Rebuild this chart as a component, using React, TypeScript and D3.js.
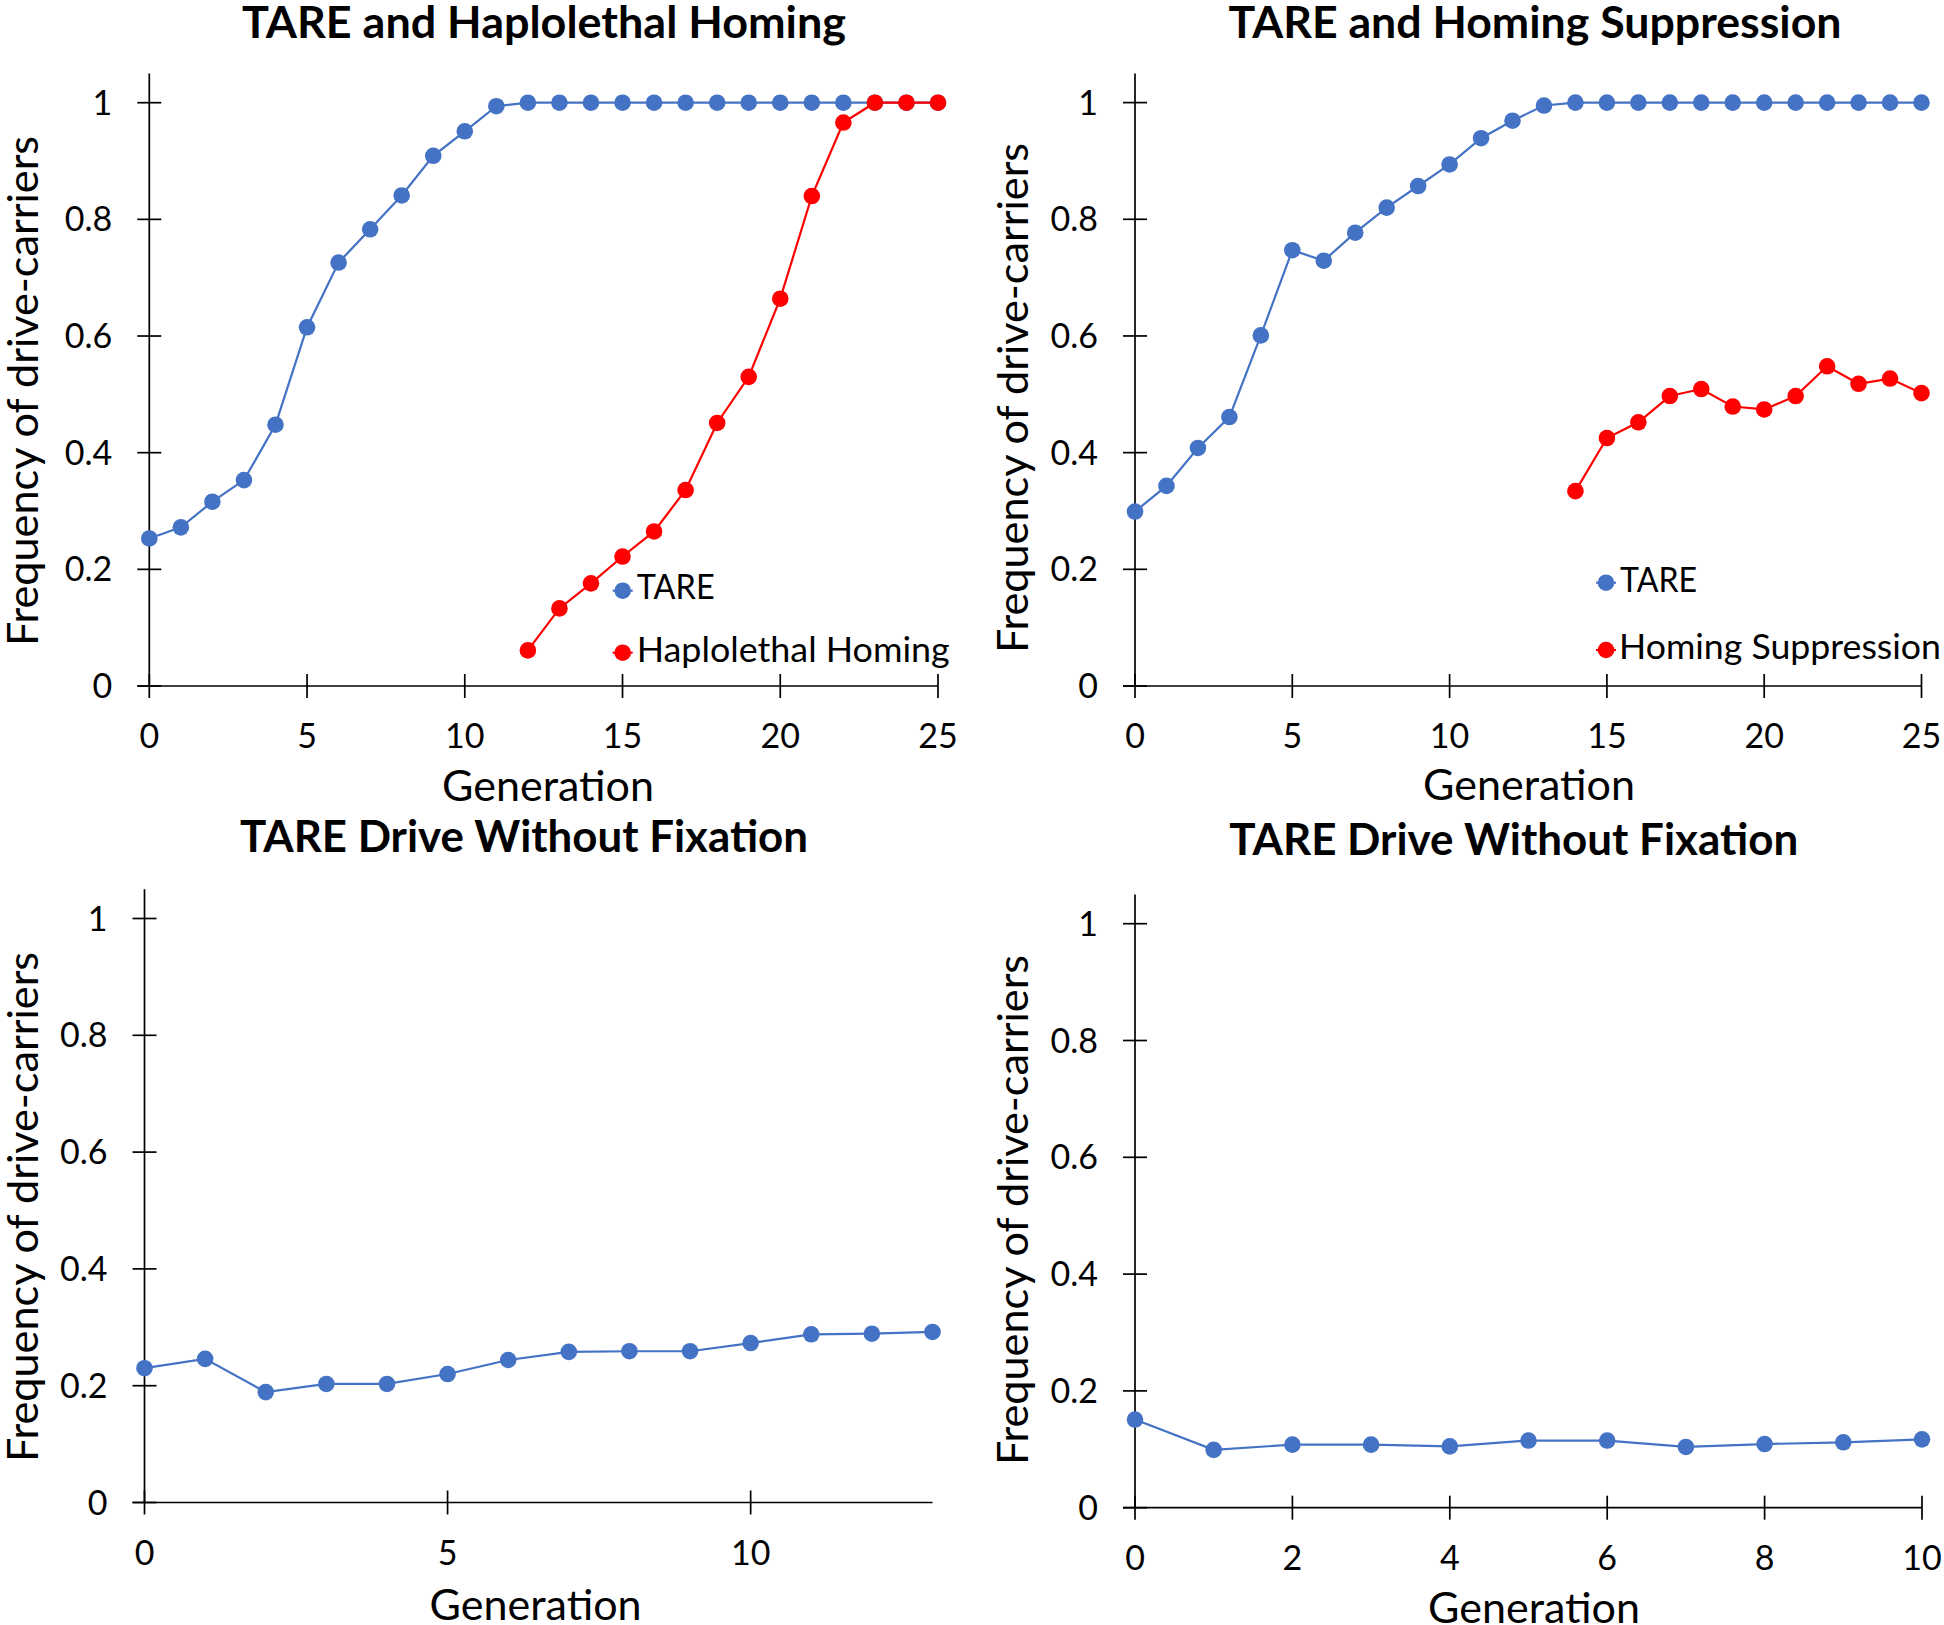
import React from "react";
import * as d3 from "d3";

// ---------------- DATA ----------------
const Y_TICKS = [0, 0.2, 0.4, 0.6, 0.8, 1];
const Y_TICK_LABELS = ["0", "0.2", "0.4", "0.6", "0.8", "1"];

const P1_X_TICKS = [0, 5, 10, 15, 20, 25];
const P1_GEN = [0, 1, 2, 3, 4, 5, 6, 7, 8, 9, 10, 11, 12, 13, 14, 15, 16, 17, 18, 19, 20, 21, 22, 23, 24, 25];
const P1_TARE = [0.253, 0.272, 0.316, 0.353, 0.448, 0.615, 0.726, 0.783, 0.841, 0.909, 0.951, 0.994, 1, 1, 1, 1, 1, 1, 1, 1, 1, 1, 1, 1, 1, 1];
const P1_HAPLO_GEN = [12, 13, 14, 15, 16, 17, 18, 19, 20, 21, 22, 23, 24, 25];
const P1_HAPLO = [0.061, 0.133, 0.176, 0.222, 0.265, 0.336, 0.451, 0.53, 0.664, 0.84, 0.966, 1, 1, 1];

const P2_X_TICKS = [0, 5, 10, 15, 20, 25];
const P2_GEN = [0, 1, 2, 3, 4, 5, 6, 7, 8, 9, 10, 11, 12, 13, 14, 15, 16, 17, 18, 19, 20, 21, 22, 23, 24, 25];
const P2_TARE = [0.299, 0.343, 0.408, 0.461, 0.601, 0.747, 0.729, 0.777, 0.82, 0.857, 0.894, 0.939, 0.969, 0.995, 1, 1, 1, 1, 1, 1, 1, 1, 1, 1, 1, 1];
const P2_SUPP_GEN = [14, 15, 16, 17, 18, 19, 20, 21, 22, 23, 24, 25];
const P2_SUPP = [0.334, 0.425, 0.452, 0.497, 0.509, 0.479, 0.474, 0.497, 0.548, 0.518, 0.527, 0.502];

const P3_X_TICKS = [0, 5, 10];
const P3_GEN = [0, 1, 2, 3, 4, 5, 6, 7, 8, 9, 10, 11, 12, 13];
const P3_TARE = [0.23, 0.246, 0.189, 0.203, 0.203, 0.22, 0.244, 0.258, 0.259, 0.259, 0.273, 0.288, 0.289, 0.292];

const P4_X_TICKS = [0, 2, 4, 6, 8, 10];
const P4_GEN = [0, 1, 2, 3, 4, 5, 6, 7, 8, 9, 10];
const P4_TARE = [0.151, 0.099, 0.108, 0.108, 0.105, 0.115, 0.115, 0.104, 0.109, 0.112, 0.117];

const TITLES = ["TARE and Haplolethal Homing", "TARE and Homing Suppression", "TARE Drive Without Fixation", "TARE Drive Without Fixation"];
const X_LABEL = "Generation";
const Y_LABEL = "Frequency of drive-carriers";

const BLUE = "#4472C4";
const RED = "#FF0000";
const FONT = "Lato, 'Open Sans', sans-serif";

type Series = { x: number[]; y: number[]; color: string };
type LegendItem = { label: string; color: string; cx: number; cy: number; tx: number; ty: number; tw: number };

type PanelProps = {
  title: string;
  titleX: number;
  titleY: number;
  titleW: number;
  xMax: number;
  xTicks: number[];
  left: number;
  right: number;
  bottom: number;
  top1: number;
  xLabelX: number;
  xLabelY: number;
  yLabelX: number;
  yLabelY: number;
  series: Series[];
  legend?: LegendItem[];
};

function Panel(p: PanelProps) {
  const x = d3.scaleLinear().domain([0, p.xMax]).range([p.left, p.right]);
  const y = d3.scaleLinear().domain([0, 1]).range([p.bottom, p.top1]);
  const line = d3
    .line<[number, number]>()
    .x((d) => x(d[0]))
    .y((d) => y(d[1]));
  const tick = 12;
  return (
    <g>
      <text
        x={p.titleX}
        y={p.titleY}
        textAnchor="middle"
        fontFamily={FONT}
        fontWeight="bold"
        fontSize={43}
        textLength={p.titleW}
        lengthAdjust="spacingAndGlyphs"
        fill="#000"
      >
        {p.title}
      </text>
      {/* axes */}
      <line x1={x(0)} x2={x(0)} y1={y(0)} y2={y(1.05)} stroke="#000" strokeWidth={1.7} />
      <line x1={x(0) - tick} x2={x(p.xMax)} y1={y(0)} y2={y(0)} stroke="#000" strokeWidth={1.7} />
      {Y_TICKS.map((t, i) => (
        <g key={"yt" + i}>
          <line x1={x(0) - tick} x2={x(0) + tick} y1={y(t)} y2={y(t)} stroke="#000" strokeWidth={1.7} />
          <text x={x(0) - 37} y={y(t) + 12} textAnchor="end" fontFamily={FONT} fontSize={34} fill="#000">
            {Y_TICK_LABELS[i]}
          </text>
        </g>
      ))}
      {p.xTicks.map((t) => (
        <g key={"xt" + t}>
          <line x1={x(t)} x2={x(t)} y1={y(0) - tick} y2={y(0) + tick} stroke="#000" strokeWidth={1.7} />
          <text x={x(t)} y={y(0) + 62} textAnchor="middle" fontFamily={FONT} fontSize={34} fill="#000">
            {String(t)}
          </text>
        </g>
      ))}
      <text
        x={p.xLabelX}
        y={p.xLabelY}
        textAnchor="middle"
        fontFamily={FONT}
        fontSize={43}
        textLength={212}
        lengthAdjust="spacingAndGlyphs"
        fill="#000"
      >
        {X_LABEL}
      </text>
      <text
        transform={`translate(${p.yLabelX},${p.yLabelY}) rotate(-90)`}
        textAnchor="middle"
        fontFamily={FONT}
        fontSize={42}
        textLength={510}
        lengthAdjust="spacingAndGlyphs"
        fill="#000"
      >
        {Y_LABEL}
      </text>
      {p.series.map((s, si) => {
        const pts: [number, number][] = s.x.map((v, i) => [v, s.y[i]]);
        return (
          <g key={"s" + si}>
            <path d={line(pts) || ""} fill="none" stroke={s.color} strokeWidth={2.2} />
            {pts.map((d, i) => (
              <circle key={i} cx={x(d[0])} cy={y(d[1])} r={8.3} fill={s.color} />
            ))}
          </g>
        );
      })}
      {(p.legend || []).map((l, i) => (
        <g key={"lg" + i}>
          <line x1={l.cx - 10} x2={l.cx + 10} y1={l.cy} y2={l.cy} stroke={l.color} strokeWidth={2.2} />
          <circle cx={l.cx} cy={l.cy} r={8.3} fill={l.color} />
          <text
            x={l.tx}
            y={l.ty}
            fontFamily={FONT}
            fontSize={34}
            textLength={l.tw}
            lengthAdjust="spacingAndGlyphs"
            fill="#000"
          >
            {l.label}
          </text>
        </g>
      ))}
    </g>
  );
}

export default function App() {
  return (
    <svg
      width={1944}
      height={1625}
      viewBox="0 0 1944 1625"
      style={{ position: "absolute", left: 0, top: 0, background: "#fff" }}
    >
      <rect x={0} y={0} width={1944} height={1625} fill="#fff" />
      <Panel
        title={TITLES[0]}
        titleX={544}
        titleY={38}
        titleW={604}
        xMax={25}
        xTicks={P1_X_TICKS}
        left={149.3}
        right={938}
        bottom={686}
        top1={102.7}
        xLabelX={548}
        xLabelY={801}
        yLabelX={38}
        yLabelY={391}
        series={[
          { x: P1_GEN, y: P1_TARE, color: BLUE },
          { x: P1_HAPLO_GEN, y: P1_HAPLO, color: RED },
        ]}
        legend={[
          { label: "TARE", color: BLUE, cx: 622.7, cy: 590.7, tx: 636.7, ty: 599.3, tw: 78 },
          { label: "Haplolethal Homing", color: RED, cx: 622.7, cy: 652.7, tx: 636.7, ty: 662, tw: 313 },
        ]}
      />
      <Panel
        title={TITLES[1]}
        titleX={1535}
        titleY={38}
        titleW={613}
        xMax={25}
        xTicks={P2_X_TICKS}
        left={1135}
        right={1921.5}
        bottom={686}
        top1={102.6}
        xLabelX={1529}
        xLabelY={800}
        yLabelX={1028}
        yLabelY={398}
        series={[
          { x: P2_GEN, y: P2_TARE, color: BLUE },
          { x: P2_SUPP_GEN, y: P2_SUPP, color: RED },
        ]}
        legend={[
          { label: "TARE", color: BLUE, cx: 1606, cy: 582.7, tx: 1620, ty: 591.7, tw: 77 },
          { label: "Homing Suppression", color: RED, cx: 1606, cy: 650, tx: 1619, ty: 659, tw: 322 },
        ]}
      />
      <Panel
        title={TITLES[2]}
        titleX={524}
        titleY={851.6}
        titleW={568}
        xMax={13}
        xTicks={P3_X_TICKS}
        left={144.5}
        right={932.5}
        bottom={1502.5}
        top1={918.5}
        xLabelX={535.6}
        xLabelY={1619.5}
        yLabelX={38}
        yLabelY={1207}
        series={[{ x: P3_GEN, y: P3_TARE, color: BLUE }]}
      />
      <Panel
        title={TITLES[3]}
        titleX={1513.7}
        titleY={855}
        titleW={569}
        xMax={10}
        xTicks={P4_X_TICKS}
        left={1135}
        right={1922}
        bottom={1507.7}
        top1={923.7}
        xLabelX={1534}
        xLabelY={1623}
        yLabelX={1028}
        yLabelY={1210}
        series={[{ x: P4_GEN, y: P4_TARE, color: BLUE }]}
      />
    </svg>
  );
}
